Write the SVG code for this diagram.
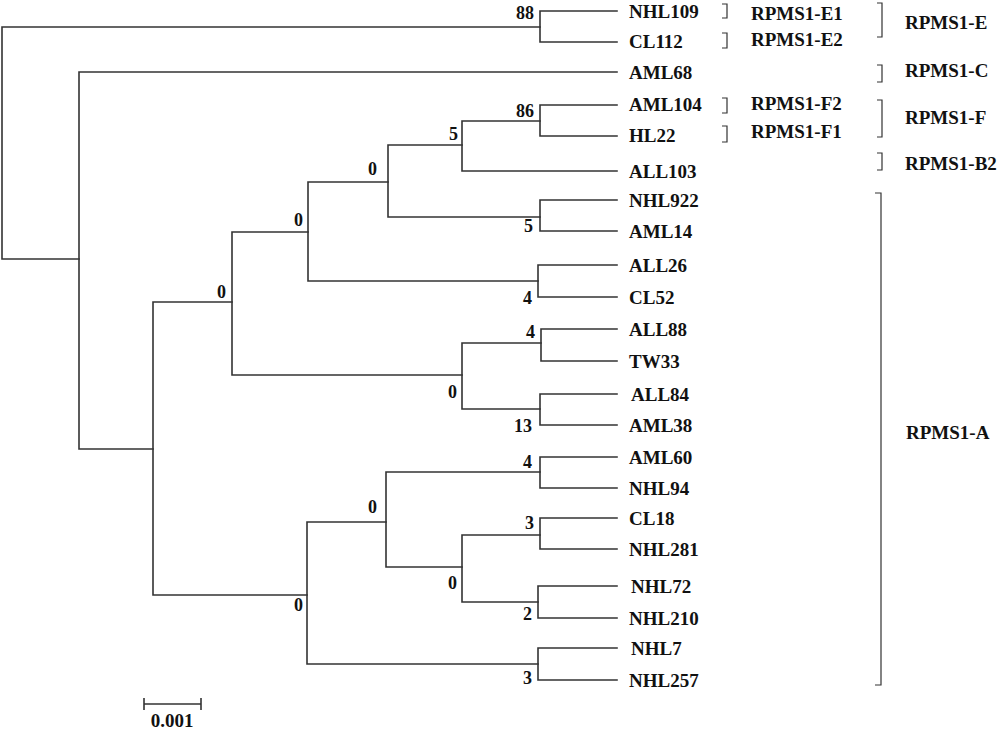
<svg xmlns="http://www.w3.org/2000/svg" width="1000" height="730" viewBox="0 0 1000 730">
<style>
.br{fill:none;stroke:#333;stroke-width:1.6;stroke-linecap:square}
.bk{fill:none;stroke:#333;stroke-width:1.2}
text{font-family:"Liberation Serif","Times New Roman",serif;font-weight:bold;fill:#111}
.lf{font-size:19px}
.bs{font-size:18px;text-anchor:end}
.gp{font-size:19px}
</style>
<rect width="1000" height="730" fill="#fff"/>
<g id="connectors" class="br">
<path d="M2,27V259M2,27H540M2,259H79"/>
<path d="M540,11V42M540,11H617M540,42H617"/>
<path d="M79,72V449M79,72H617M79,449H153"/>
<path d="M153,302V595M153,302H232M153,595H307"/>
<path d="M232,232V375M232,232H308M232,375H462"/>
<path d="M308,182V281M308,182H388M308,281H538"/>
<path d="M388,145V217M388,145H462M388,217H540"/>
<path d="M462,121V171M462,121H540M462,171H617"/>
<path d="M540,105V136M540,105H617M540,136H617"/>
<path d="M540,200V231M540,200H617M540,231H617"/>
<path d="M538,265V297M538,265H617M538,297H617"/>
<path d="M462,343V409M462,343H541M462,409H540"/>
<path d="M541,329V361M541,329H617M541,361H617"/>
<path d="M540,394V425M540,394H617M540,425H617"/>
<path d="M307,522V664M307,522H386M307,664H538"/>
<path d="M386,472V567M386,472H540M386,567H462"/>
<path d="M540,457V488M540,457H617M540,488H617"/>
<path d="M462,535V602M462,535H540M462,602H538"/>
<path d="M540,518V549M540,518H617M540,549H617"/>
<path d="M538,586V618M538,586H617M538,618H617"/>
<path d="M538,648V680M538,648H617M538,680H617"/>
</g>
<g id="leaves" class="lf">
<g id="n-NHL109"><text x="629" y="18">NHL109</text></g>
<g id="n-CL112"><text x="629" y="48">CL112</text></g>
<g id="n-AML68"><text x="629" y="79">AML68</text></g>
<g id="n-AML104"><text x="629" y="111">AML104</text></g>
<g id="n-HL22"><text x="629" y="142">HL22</text></g>
<g id="n-ALL103"><text x="629" y="178">ALL103</text></g>
<g id="n-NHL922"><text x="629" y="207">NHL922</text></g>
<g id="n-AML14"><text x="629" y="238">AML14</text></g>
<g id="n-ALL26"><text x="629" y="272">ALL26</text></g>
<g id="n-CL52"><text x="629" y="304">CL52</text></g>
<g id="n-ALL88"><text x="629" y="336">ALL88</text></g>
<g id="n-TW33"><text x="629" y="368">TW33</text></g>
<g id="n-ALL84"><text x="631" y="401">ALL84</text></g>
<g id="n-AML38"><text x="629" y="432">AML38</text></g>
<g id="n-AML60"><text x="629" y="464">AML60</text></g>
<g id="n-NHL94"><text x="629" y="495">NHL94</text></g>
<g id="n-CL18"><text x="629" y="525">CL18</text></g>
<g id="n-NHL281"><text x="629" y="556">NHL281</text></g>
<g id="n-NHL72"><text x="631" y="593">NHL72</text></g>
<g id="n-NHL210"><text x="629" y="625">NHL210</text></g>
<g id="n-NHL7"><text x="631" y="655">NHL7</text></g>
<g id="n-NHL257"><text x="629" y="687">NHL257</text></g>
</g>
<g id="bootstrap" class="bs">
<g id="b1"><text x="534" y="19">88</text></g>
<g id="b2"><text x="534" y="117">86</text></g>
<g id="b3"><text x="458" y="140">5</text></g>
<g id="b4"><text x="377" y="175">0</text></g>
<g id="b5"><text x="303" y="226">0</text></g>
<g id="b6"><text x="226" y="298">0</text></g>
<g id="b7"><text x="533" y="232">5</text></g>
<g id="b8"><text x="532" y="304">4</text></g>
<g id="b9"><text x="535" y="338">4</text></g>
<g id="b10"><text x="457" y="398">0</text></g>
<g id="b11"><text x="532" y="432">13</text></g>
<g id="b12"><text x="532" y="468">4</text></g>
<g id="b13"><text x="377" y="513">0</text></g>
<g id="b14"><text x="534" y="529">3</text></g>
<g id="b15"><text x="457" y="589">0</text></g>
<g id="b16"><text x="532" y="620">2</text></g>
<g id="b17"><text x="303" y="611">0</text></g>
<g id="b18"><text x="532" y="684">3</text></g>
</g>
<g id="groups">
<g id="g-E1"><path class="bk" d="M722,4H727V18H722"/><text class="gp" x="751" y="20">RPMS1-E1</text></g>
<g id="g-E2"><path class="bk" d="M722,33H727V48H722"/><text class="gp" x="751" y="46">RPMS1-E2</text></g>
<g id="g-F2"><path class="bk" d="M722,98H727V113H722"/><text class="gp" x="751" y="110">RPMS1-F2</text></g>
<g id="g-F1"><path class="bk" d="M722,126H727V142H722"/><text class="gp" x="751" y="138">RPMS1-F1</text></g>
<g id="g-E"><path class="bk" d="M877,3H882V37H877"/><text class="gp" x="905" y="29">RPMS1-E</text></g>
<g id="g-C"><path class="bk" d="M877,65H882V82H877"/><text class="gp" x="905" y="77">RPMS1-C</text></g>
<g id="g-F"><path class="bk" d="M877,100H882V137H877"/><text class="gp" x="905" y="124">RPMS1-F</text></g>
<g id="g-B2"><path class="bk" d="M877,153H882V170H877"/><text class="gp" x="905" y="170">RPMS1-B2</text></g>
<g id="g-A"><path class="bk" d="M875,193H881V685H875"/><text class="gp" x="906" y="439">RPMS1-A</text></g>
</g>
<g id="scale">
<path class="bk" d="M144,704H201M144,698V710M201,698V710" style="stroke-width:1.6"/>
<text x="172" y="727" style="font-size:19px;text-anchor:middle">0.001</text>
</g>
</svg>
